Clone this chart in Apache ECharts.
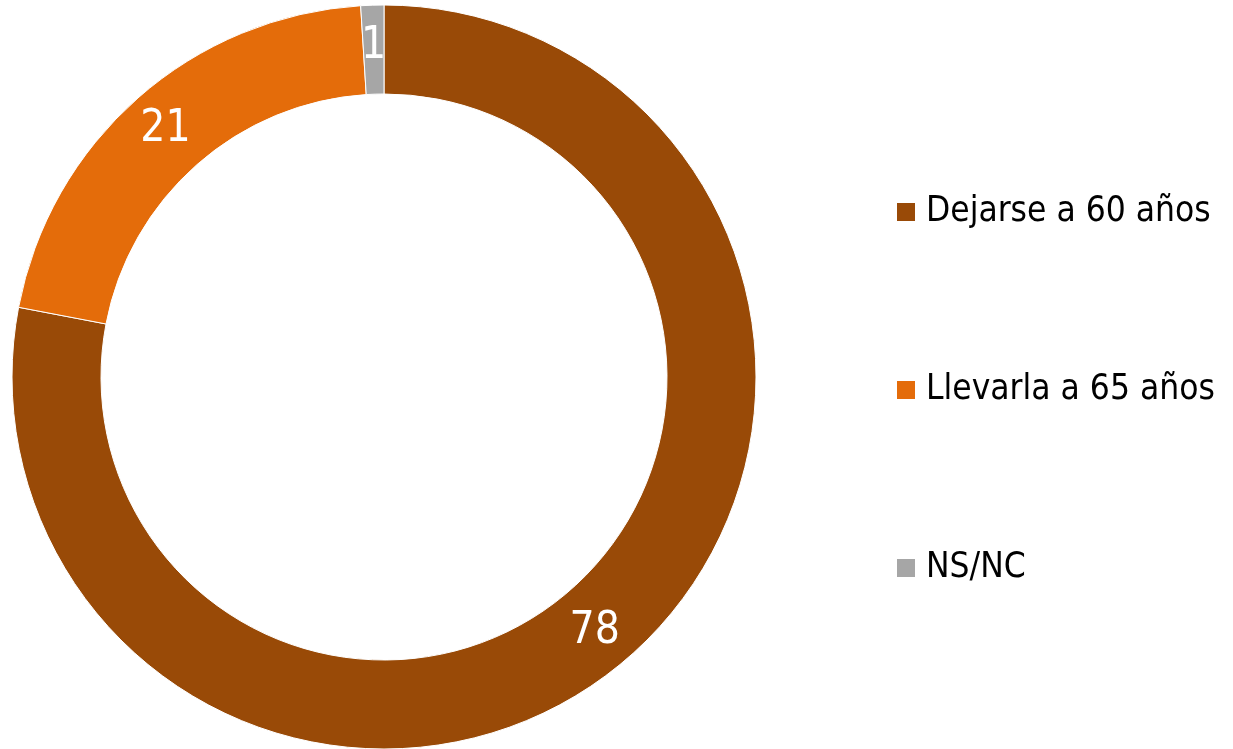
<!DOCTYPE html>
<html>
<head>
<meta charset="utf-8">
<script src="https://cdn.jsdelivr.net/npm/echarts@6/dist/echarts.min.js"></script>
<style>
html, body { margin: 0; padding: 0; background: #fff; }
#main { width: 1233px; height: 749px; }
</style>
</head>
<body>
<div id="main"></div>
<script>
// datos del gráfico
var categories = ['Dejarse a 60 años', 'Llevarla a 65 años', 'NS/NC'];
var values = [78, 21, 1];
var colors = ['#994a07', '#e46c0a', '#a6a6a6'];

var chart = echarts.init(document.getElementById('main'));

var option = {
    backgroundColor: '#ffffff',
    animation: false,
    legend: {
        orient: 'vertical',
        left: 890,
        top: 189,
        itemWidth: 20,
        itemHeight: 20,
        itemGap: 142,
        icon: 'rect',
        textStyle: {
            fontFamily: 'DejaVu Sans Condensed',
            fontSize: 35,
            lineHeight: 36,
            padding: [0, 0, 0, 5],
            color: '#000'
        },
        data: categories
    },
    series: [{
        type: 'pie',
        center: [384, 377],
        radius: [283, 372],
        startAngle: 90,
        clockwise: true,
        avoidLabelOverlap: false,
        itemStyle: {
            borderColor: '#fff',
            borderWidth: 1
        },
        label: {
            show: true,
            position: 'inside',
            color: '#fff',
            fontFamily: 'DejaVu Sans Condensed',
            fontSize: 44,
            formatter: '{c}'
        },
        labelLine: { show: false },
        emphasis: { disabled: true },
        data: categories.map(function (c, i) {
            return { name: c, value: values[i], itemStyle: { color: colors[i] } };
        })
    }]
};

chart.setOption(option);
</script>
</body>
</html>
